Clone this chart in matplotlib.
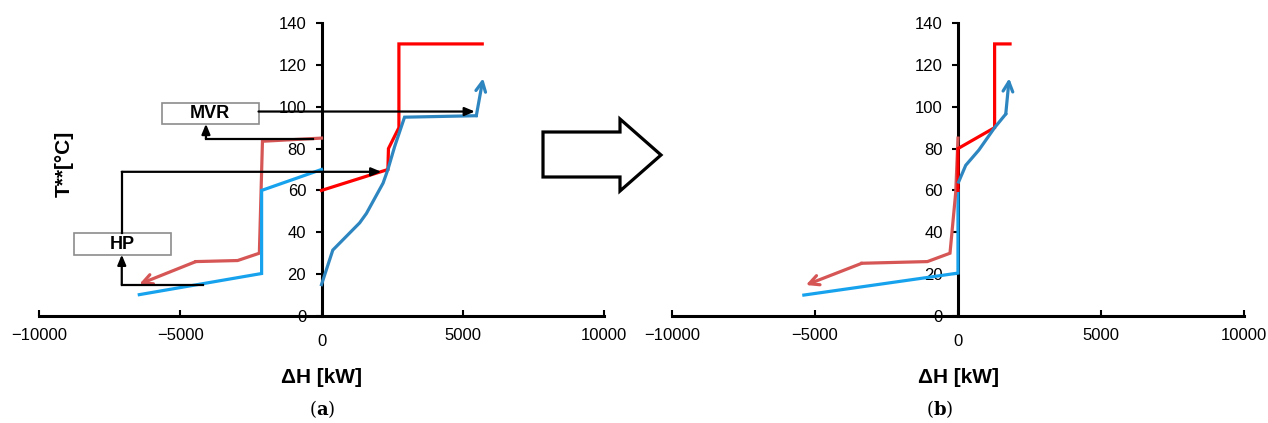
import numpy as np
import matplotlib
matplotlib.use("Agg")
import matplotlib.pyplot as plt
from matplotlib.patches import Rectangle, Polygon
from matplotlib.transforms import ScaledTranslation

plt.rcParams['font.family'] = ['Liberation Sans', 'DejaVu Sans']
plt.rcParams['mathtext.fontset'] = 'dejavuserif'

# ---- data: (a) before integration ----
a_hot_x = [0, 2350, 2370, 2740, 2740, 5690]
a_hot_y = [60, 70, 80, 90, 130, 130]
a_cold_x = [0, 400, 1350, 1590, 2180, 2350, 2590, 2940, 5480, 5720]
a_cold_y = [15, 31.5, 44.5, 49, 63.5, 70, 81, 95, 95.7, 113.6]
a_sink_x = [0, -2090, -2200, -2970, -4450, -6450]
a_sink_y = [85, 83.5, 30, 26.5, 26, 15.2]
a_source_x = [0, -2120, -2120, -6450]
a_source_y = [70, 60, 20.3, 10.2]

# ---- data: (b) after integration ----
b_hot_x = [0, 0, 1280, 1280, 1820]
b_hot_y = [60, 80, 90, 130, 130]
b_cold_x = [20, 270, 730, 1280, 1670, 1790]
b_cold_y = [64, 72, 79.3, 90, 96.5, 113.6]
b_sink_x = [0, -80, -280, -1070, -3360, -5320]
b_sink_y = [85, 59, 30, 26, 25.2, 14.8]
b_source_x = [0, 0, -5390]
b_source_y = [60, 20.5, 10]

c_hot = '#ff0000'
c_sink = '#d65656'
c_cold = '#2e86c1'
c_source = '#17a2ee'
lw = 2.3

fig = plt.figure(figsize=(12.68, 4.23), dpi=100)
ax1 = fig.add_axes([39/1268, 1-316/423, 565/1268, 293/423])
ax2 = fig.add_axes([672/1268, 1-316/423, 572/1268, 293/423])


def line(ax, xs, ys, color):
    ax.plot(xs, ys, color=color, lw=lw, zorder=3, solid_joinstyle='miter')


def arrow_line(ax, xs, ys, color):
    ax.plot(xs[:-1], ys[:-1], color=color, lw=lw, zorder=3, solid_joinstyle='miter')
    ax.annotate('', xy=(xs[-1], ys[-1]), xytext=(xs[-2], ys[-2]),
                arrowprops=dict(arrowstyle='->,head_length=0.7,head_width=0.35',
                                color=color, lw=lw, shrinkA=0, shrinkB=0), zorder=3)


def black_arrow(ax, xs, ys):
    ax.plot(xs[:-1], ys[:-1], color='black', lw=1.6, zorder=4)
    ax.annotate('', xy=(xs[-1], ys[-1]), xytext=(xs[-2], ys[-2]),
                arrowprops=dict(arrowstyle='-|>,head_length=0.6,head_width=0.25',
                                color='black', lw=1.6, shrinkA=0, shrinkB=0), zorder=4)


for ax in (ax1, ax2):
    ax.set_xlim(-10000, 10000)
    ax.set_ylim(0, 140)
    ax.spines['top'].set_visible(False)
    ax.spines['right'].set_visible(False)
    ax.spines['left'].set_position(('data', 0))
    ax.spines['left'].set_linewidth(2.2)
    ax.spines['bottom'].set_linewidth(2.2)
    ax.set_xticks([-10000, -5000, 0, 5000, 10000])
    ax.set_yticks(np.arange(0, 141, 20))
    ax.tick_params(axis='x', direction='in', length=4, width=1.5, pad=9, labelsize=12)
    ax.tick_params(axis='y', direction='out', length=4, width=1.5, pad=7, labelsize=12)
    ax.set_xlabel('ΔH [kW]', fontsize=15, fontweight='bold', labelpad=14)
    # the "0" on the x axis sits a little lower in the original
    lbl = ax.get_xticklabels()[2]
    lbl.set_transform(lbl.get_transform() + ScaledTranslation(0, -0.05, fig.dpi_scale_trans))

# (a)
line(ax1, a_hot_x, a_hot_y, c_hot)
arrow_line(ax1, a_cold_x, a_cold_y, c_cold)
arrow_line(ax1, a_sink_x, a_sink_y, c_sink)
line(ax1, a_source_x, a_source_y, c_source)

# MVR / HP boxes
ax1.add_patch(Rectangle((-5650, 91.8), 3420, 10.1, facecolor='white', edgecolor='#8c8c8c', lw=1.2, zorder=4))
ax1.text(-3940, 96.9, 'MVR', ha='center', va='center', fontsize=13, fontweight='bold', zorder=5)
ax1.add_patch(Rectangle((-8760, 29.3), 3430, 10.2, facecolor='white', edgecolor='#8c8c8c', lw=1.2, zorder=4))
ax1.text(-7045, 34.4, 'HP', ha='center', va='center', fontsize=13, fontweight='bold', zorder=5)

black_arrow(ax1, [-2230, 5430], [97.7, 97.7])
black_arrow(ax1, [-300, -4090, -4090], [84.7, 84.7, 91.8])
black_arrow(ax1, [-4200, -7070, -7070], [14.8, 14.8, 29.3])
black_arrow(ax1, [-7070, -7070, 2120], [39.5, 68.9, 68.9])

# (b)
line(ax2, b_source_x, b_source_y, c_source)
arrow_line(ax2, b_sink_x, b_sink_y, c_sink)
line(ax2, b_hot_x, b_hot_y, c_hot)
arrow_line(ax2, b_cold_x, b_cold_y, c_cold)

fig.text(64/1268, 1-164/423, 'T**[°C]', rotation=90, ha='center', va='center',
         fontsize=15, fontweight='bold')

fig.text(322/1268, 1-409/423, r'($\mathbf{a}$)', ha='center', va='center', fontsize=13, family='serif')
fig.text(940/1268, 1-409/423, r'($\mathbf{b}$)', ha='center', va='center', fontsize=13, family='serif')

# big block arrow between panels
pts = [(543, 132), (620, 132), (620, 119), (661, 155), (620, 191), (620, 177), (543, 177)]
fig.patches.append(Polygon([(x/1268, 1-y/423) for x, y in pts], closed=True, facecolor='white',
                           edgecolor='black', lw=2.3, transform=fig.transFigure, figure=fig,
                           joinstyle='miter'))

fig.savefig('out.png', dpi=100)
